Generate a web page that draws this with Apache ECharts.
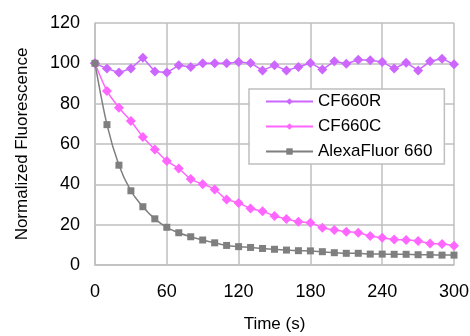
<!DOCTYPE html>
<html><head><meta charset="utf-8">
<script src="https://cdn.jsdelivr.net/npm/echarts@6/dist/echarts.min.js"></script>
<style>html,body{margin:0;padding:0;background:#fff}#c{width:470px;height:336px}</style>
</head><body><div id="c"></div>
<script>
const times = [0,10,20,30,40,50,60,70,80,90,100,110,120,130,140,150,160,170,180,190,200,210,220,230,240,250,260,270,280,290,300];
const cf660R = [100,97.4,95.4,97.4,102.8,96,95.4,99,98.2,100,100,100,100.6,100.2,96.5,99,96.5,98.2,100.2,96.9,101,99.8,101.8,101.5,100.7,97.4,100.3,96.5,101,102.3,99.5];
const cf660C = [100,86.3,78,71.4,63.5,57.3,51.6,47.9,42.6,40.1,37.5,32.5,30.8,28,26.7,24.3,22.8,21.4,20.9,18.5,17.3,16.5,16,14.4,13.5,12.7,12.4,11.9,10.7,10.4,9.6];
const alexa660 = [100,69.6,49.5,36.8,28.9,22.9,18.7,16,14,12.4,11,9.7,9.1,8.7,8.2,7.8,7.4,7.1,7,6.6,6.1,5.8,5.8,5.4,5.4,5.3,5.3,5.1,5.1,4.9,4.9];
const seriesNames = ['CF660R','CF660C','AlexaFluor 660'];
const xTicks = [0,60,120,180,240,300];
const yTicks = [0,20,40,60,80,100,120];

const pair = arr => times.map((t,i)=>[t,arr[i]]);
const font = 'Liberation Sans, Arial, sans-serif';
const chart = echarts.init(document.getElementById('c'));
chart.setOption({
  animation:false,
  textStyle:{fontFamily:font},
  grid:{left:95,right:16,top:23,bottom:71,containLabel:false,outerBoundsMode:'none'},
  legend:{
    orient:'vertical', left:249, top:89, width:199,
    padding:[4,12,4,16], itemGap:8, itemWidth:47, itemHeight:8,
    backgroundColor:'#fff', borderColor:'#BFBFBF', borderWidth:1.5,
    textStyle:{fontSize:17,color:'#000',fontFamily:font},
    data:seriesNames
  },
  xAxis:{
    type:'value', min:0, max:300, interval:60,
    name:'Time (s)', nameLocation:'middle', nameGap:51,
    nameTextStyle:{fontSize:17,color:'#000'},
    axisLabel:{fontSize:18,color:'#000',margin:18,formatter:v=>xTicks.includes(v)?String(v):''},
    axisLine:{show:true,lineStyle:{color:'#BFBFBF',width:1.5}},
    axisTick:{show:false},
    splitLine:{show:true,lineStyle:{color:'#BFBFBF',width:1.5}}
  },
  yAxis:{
    type:'value', min:0, max:120, interval:20,
    name:'Normalized Fluorescence', nameLocation:'middle', nameGap:64,
    nameTextStyle:{fontSize:17,color:'#000'},
    axisLabel:{fontSize:18,color:'#000',margin:15,formatter:v=>yTicks.includes(v)?String(v):''},
    axisLine:{show:true,lineStyle:{color:'#BFBFBF',width:1.5}},
    axisTick:{show:false},
    splitLine:{show:true,lineStyle:{color:'#BFBFBF',width:1.5}}
  },
  series:[
    {name:seriesNames[0],type:'line',data:pair(cf660R),symbol:'diamond',symbolSize:10,
     itemStyle:{color:'#CC66FF'},lineStyle:{color:'#CC66FF',width:1.5},z:3},
    {name:seriesNames[1],type:'line',data:pair(cf660C),symbol:'diamond',symbolSize:10,
     itemStyle:{color:'#FF66FF'},lineStyle:{color:'#FF66FF',width:1.5},smooth:0.3,z:2},
    {name:seriesNames[2],type:'line',data:pair(alexa660),symbol:'rect',symbolSize:7,
     itemStyle:{color:'#7F7F7F'},lineStyle:{color:'#7F7F7F',width:1.5},smooth:0.3,z:4}
  ]
});
</script></body></html>
